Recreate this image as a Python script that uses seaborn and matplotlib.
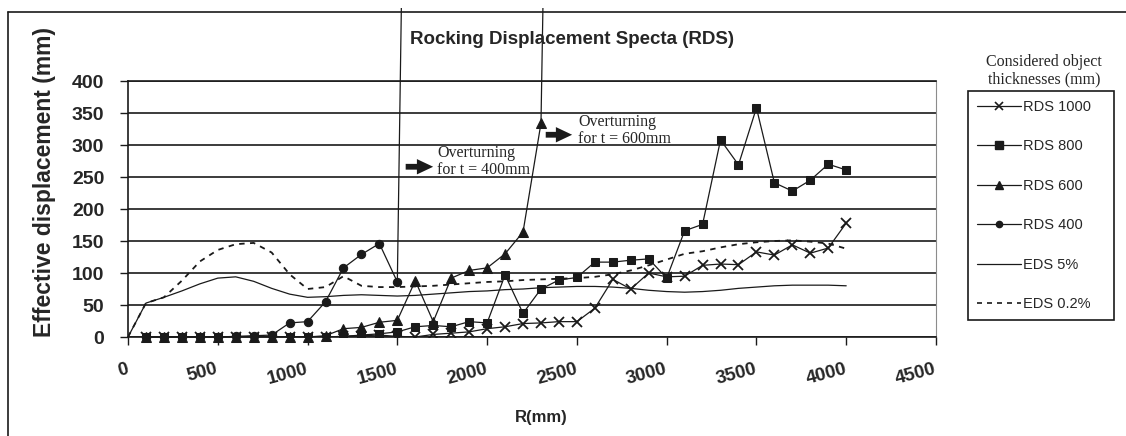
import matplotlib
matplotlib.use("Agg")
import matplotlib.pyplot as plt
import seaborn as sns
import numpy as np
import pandas as pd
from matplotlib.lines import Line2D
from matplotlib.transforms import Bbox, TransformedBbox, ScaledTranslation

# ---------------- data ----------------
R_rds = [100, 200, 300, 400, 500, 600, 700, 800, 900, 1000,
         1100, 1200, 1300, 1400, 1500, 1600, 1700, 1800, 1900, 2000,
         2100, 2200, 2300, 2400, 2500, 2600, 2700, 2800, 2900, 3000,
         3100, 3200, 3300, 3400, 3500, 3600, 3700, 3800, 3900, 4000]

rds_1000 = [0, 0, 0, 0, 0, 0, 0, 0, 0, 0,
            0, 1, 2, 3, 1, 0, 4, 6, 8, 13,
            16, 21, 22, 24, 24, 45, 90, 75, 100, 94,
            95, 112, 114, 113, 133, 128, 144, 131, 139, 178]

rds_800 = [0, 0, 0, 0, 0, 0, 0, 0, 0, 0,
           0, 1, 3, 5, 8, 16, 18, 16, 24, 22,
           97, 37, 75, 89, 93, 117, 117, 120, 122, 92,
           166, 176, 308, 269, 358, 241, 228, 245, 270, 261]

R_600 = [100, 200, 300, 400, 500, 600, 700, 800, 900, 1000,
         1100, 1200, 1300, 1400, 1500, 1600, 1700, 1800, 1900, 2000,
         2100, 2200, 2300, 2400]
rds_600 = [0, 0, 0, 0, 0, 0, 0, 0, 0, 0,
           2, 13, 15, 23, 26, 88, 24, 92, 104, 108,
           130, 164, 334, 2000]          # last point: overturning (off scale)

R_400 = [100, 200, 300, 400, 500, 600, 700, 800, 900, 1000,
         1100, 1200, 1300, 1400, 1500, 1600]
rds_400 = [0, 0, 0, 0, 0, 1, 2, 3, 22, 24,
           55, 108, 129, 146, 86, 2000]  # last point: overturning (off scale)

R_eds = [0, 100, 200, 300, 400, 500, 600, 700, 800, 900, 1000,
         1100, 1200, 1300, 1400, 1500, 1600, 1700, 1800, 1900, 2000,
         2100, 2200, 2300, 2400, 2500, 2600, 2700, 2800, 2900, 3000,
         3100, 3200, 3300, 3400, 3500, 3600, 3700, 3800, 3900, 4000]
eds_5 = [0, 53, 62, 72, 83, 92, 94, 87, 76, 67, 62,
         63, 65, 66, 65, 64, 65, 67, 69, 71, 72,
         74, 75, 77, 78, 79, 79, 78, 76, 73, 71,
         70, 71, 73, 76, 78, 80, 81, 81, 81, 80]
eds_02 = [0, 53, 62, 88, 118, 136, 145, 147, 132, 98, 75,
          78, 95, 80, 78, 78, 79, 80, 82, 84, 86,
          87, 89, 90, 91, 92, 94, 98, 104, 112, 121,
          130, 134, 140, 145, 148, 150, 151, 149, 146, 138]

x_ticks = [0, 500, 1000, 1500, 2000, 2500, 3000, 3500, 4000, 4500]
y_ticks = [0, 50, 100, 150, 200, 250, 300, 350, 400]

# ---------------- style ----------------
sns.set_theme(style="white")
plt.rcParams["font.family"] = ["Liberation Sans", "DejaVu Sans"]
SERIF = ["Liberation Serif", "DejaVu Serif"]

W, H = 1126, 436
fig = plt.figure(figsize=(W / 100, H / 100), dpi=100)
ax = fig.add_axes([128 / W, 1 - 337 / H, (936 - 128) / W, (337 - 81) / H])

lw = 0.9
sns.lineplot(x=R_eds, y=eds_5, ax=ax, color="k", lw=lw, sort=False,
             estimator=None, legend=False)
sns.lineplot(x=R_eds, y=eds_02, ax=ax, color="k", lw=1.3, sort=False,
             estimator=None, legend=False, linestyle=(0, (3, 3)))
sns.lineplot(x=R_rds, y=rds_1000, ax=ax, color="k", lw=lw, marker="x",
             markersize=7, mew=1.3, mec="k", sort=False, estimator=None,
             legend=False)
sns.lineplot(x=R_rds, y=rds_800, ax=ax, color="k", lw=lw, marker="s",
             markersize=5.5, mec="k", sort=False, estimator=None, legend=False)

figclip = TransformedBbox(Bbox.from_bounds(0, 0, 1, 1 - 8 / H), fig.transFigure)

sns.lineplot(x=R_600, y=rds_600, ax=ax, color="k", lw=lw, marker="^",
             markersize=6.5, mec="k", sort=False, estimator=None, legend=False)
ax.lines[-1].set_clip_box(figclip)
sns.lineplot(x=R_400, y=rds_400, ax=ax, color="k", lw=lw, marker="o",
             markersize=6, mec="k", sort=False, estimator=None, legend=False)
ax.lines[-1].set_clip_box(figclip)

ax.set_xlim(0, 4500)
ax.set_ylim(0, 400)
ax.set_xticks(x_ticks)
ax.set_yticks(y_ticks)
ax.set_yticklabels([str(v) for v in y_ticks], fontsize=14, fontweight="bold")
ax.set_xticklabels([str(v) for v in x_ticks], fontsize=13.5, fontweight="bold",
                   rotation=15, ha="right", va="center", rotation_mode="anchor")
for lab in ax.get_xticklabels():
    lab.set_transform(lab.get_transform() +
                      ScaledTranslation(-10 / 100, 0, fig.dpi_scale_trans))
ax.tick_params(axis="y", direction="out", length=6, width=1, color="k", pad=11,
               left=True)
ax.tick_params(axis="x", direction="out", length=6, width=1, color="k", pad=17,
               bottom=True)
ax.set_xlabel("")
ax.set_ylabel("")
ax.yaxis.grid(True, color="k", lw=1.2)
ax.xaxis.grid(False)
for s in ["left", "bottom", "top"]:
    ax.spines[s].set_color("k")
    ax.spines[s].set_linewidth(1.2)
ax.spines["right"].set_color("0.55")
ax.spines["right"].set_linewidth(0.8)

# labels & title
fig.text(45 / W, 1 - 182 / H, "Effective displacement (mm)", rotation=90,
         fontsize=16.5, fontweight="bold", ha="center", va="center")
fig.text(541 / W, 1 - 417 / H, "R(mm)", fontsize=12, fontweight="bold",
         ha="center", va="center")
fig.text(572 / W, 1 - 40 / H, "Rocking Displacement Specta (RDS)", fontsize=13.5,
         fontweight="bold", ha="center", va="center")

# overturning annotations
arrow_kw = dict(arrowstyle="simple,head_length=0.9,head_width=0.85,tail_width=0.32",
                color="k", lw=0, mutation_scale=13)
ax.annotate("", xy=(1715, 266), xytext=(1531, 266), arrowprops=arrow_kw,
            annotation_clip=False)
ax.text(1722, 274, "Overturning\nfor t = 400mm", family=SERIF, fontsize=11.5,
        ha="left", va="center", linespacing=1.05)
ax.annotate("", xy=(2489, 316), xytext=(2311, 316), arrowprops=arrow_kw,
            annotation_clip=False)
ax.text(2508, 323, "Overturning\nfor t = 600mm", family=SERIF, fontsize=11.5,
        ha="left", va="center", linespacing=1.05)

# legend
handles = [
    Line2D([], [], color="k", lw=lw, marker="x", markersize=6, mew=1.2),
    Line2D([], [], color="k", lw=lw, marker="s", markersize=5.5),
    Line2D([], [], color="k", lw=lw, marker="^", markersize=6),
    Line2D([], [], color="k", lw=lw, marker="o", markersize=4.5),
    Line2D([], [], color="k", lw=lw),
    Line2D([], [], color="k", lw=1.2, linestyle=(0, (3, 3))),
]
labels = ["RDS 1000", "RDS 800", "RDS 600", "RDS 400", "EDS 5%", "EDS 0.2%"]
leg = fig.legend(handles, labels, loc="upper left",
                 bbox_to_anchor=(968 / W, (H - 330) / H, 146 / W, 239 / H),
                 mode="expand", borderaxespad=0, fontsize=10.5,
                 handlelength=3.0, handletextpad=0.15, borderpad=0.6,
                 labelspacing=1.75, fancybox=False, framealpha=1)
leg.get_frame().set_edgecolor("k")
leg.get_frame().set_linewidth(1.2)
fig.text(1044 / W, 1 - 71 / H, "Considered object\nthicknesses (mm)",
         family=SERIF, fontsize=11.5, ha="center", va="center", linespacing=1.1)

# outer chart frame (top and left edges)
fig.add_artist(Line2D([8 / W, 1], [1 - 12 / H, 1 - 12 / H],
                      transform=fig.transFigure, color="k", lw=1.2))
fig.add_artist(Line2D([8 / W, 8 / W], [1 - 12 / H, 0],
                      transform=fig.transFigure, color="k", lw=1.2))

fig.savefig("out.png", dpi=100, facecolor="white")
